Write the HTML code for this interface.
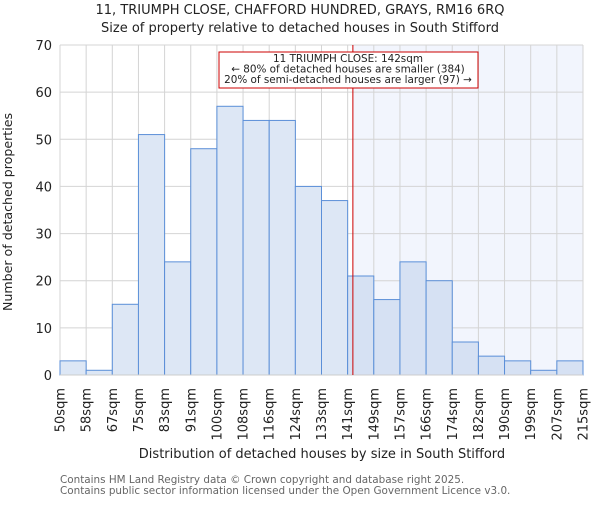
<!DOCTYPE html>
<html><head><meta charset="utf-8"><style>
body{margin:0;background:#fff;}
svg{font-family:"DejaVu Sans","Liberation Sans",sans-serif;}
</style></head><body>
<svg id="chart" width="600" height="500">
<text x="300" y="14" text-anchor="middle" font-size="13" fill="#222">11, TRIUMPH CLOSE, CHAFFORD HUNDRED, GRAYS, RM16 6RQ</text>
<text x="300" y="32" text-anchor="middle" font-size="13" fill="#222">Size of property relative to detached houses in South Stifford</text>
<g id="plot"></g>
<text x="322" y="458" text-anchor="middle" font-size="13" fill="#222">Distribution of detached houses by size in South Stifford</text>
<text transform="translate(12,212) rotate(-90)" text-anchor="middle" font-size="12.6" fill="#222">Number of detached properties</text>
<text x="60" y="483" font-size="10.4" fill="#666">Contains HM Land Registry data © Crown copyright and database right 2025.</text>
<text x="60" y="494" font-size="10.4" fill="#666">Contains public sector information licensed under the Open Government Licence v3.0.</text>
</svg>
<script>
const categories=["50sqm","58sqm","67sqm","75sqm","83sqm","91sqm","100sqm","108sqm","116sqm","124sqm","133sqm","141sqm","149sqm","157sqm","166sqm","174sqm","182sqm","190sqm","199sqm","207sqm","215sqm"];
const counts=[3,1,15,51,24,48,57,54,54,40,37,21,16,24,20,7,4,3,1,3];
const yTicks=[0,10,20,30,40,50,60,70];
const markerBin=11.2;
const NS="http://www.w3.org/2000/svg";
const X0=60,X1=583,Y0=375,Y1=45,YMAX=70;
const bw=(X1-X0)/counts.length;
const xs=i=>X0+i*bw;
const ys=v=>Y0-(v/YMAX)*(Y0-Y1);
const g=document.getElementById('plot');
function mk(t,a){const e=document.createElementNS(NS,t);for(const k in a)e.setAttribute(k,a[k]);g.appendChild(e);return e;}
const mx=xs(markerBin);
let e=mk('rect',{x:mx,y:Y1,width:X1-mx,height:Y0-Y1,fill:'#f2f5fd'});


yTicks.forEach(t=>{
 let l=mk('line',{x1:X0,x2:X1,y1:ys(t),y2:ys(t),stroke:'#d4d4d4','stroke-width':1});
 
 
 let tx=mk('text',{x:X0-8,y:ys(t)+5,'text-anchor':'end','font-size':13,fill:'#222'});
 tx.textContent=t;
 
 
});
categories.forEach((c,i)=>{
 let l=mk('line',{x1:xs(i),x2:xs(i),y1:Y1,y2:Y0,stroke:'#d4d4d4','stroke-width':1});
 
 
 let tx=mk('text',{transform:`translate(${xs(i)+4.5},${Y0+13}) rotate(-90)`,'text-anchor':'end','font-size':13,fill:'#222'});
 tx.textContent=c;
 
 
});
counts.forEach((v,i)=>{
 let r=mk('rect',{x:xs(i),y:ys(v),width:bw,height:Y0-ys(v),fill:i>=11?'#d6e1f3':'#dde7f5',stroke:'#5b8fd8','stroke-width':1});
 
 
});
let ax=mk('line',{x1:X0,x2:X1,y1:Y0,y2:Y0,stroke:'#ccc'});


let ml=mk('line',{x1:mx,x2:mx,y1:Y1,y2:Y0,stroke:'#cc0000','stroke-width':1});


let bx=mk('rect',{x:219,y:52,width:259,height:36,fill:'#fff',stroke:'#cc0000','stroke-width':1});


["11 TRIUMPH CLOSE: 142sqm","← 80% of detached houses are smaller (384)","20% of semi-detached houses are larger (97) →"].forEach((s,i)=>{
 let t=mk('text',{x:348,y:62+i*10.5,'text-anchor':'middle','font-size':10.4,fill:'#222'});
 t.textContent=s;
 
 
});
</script>
</body></html>
